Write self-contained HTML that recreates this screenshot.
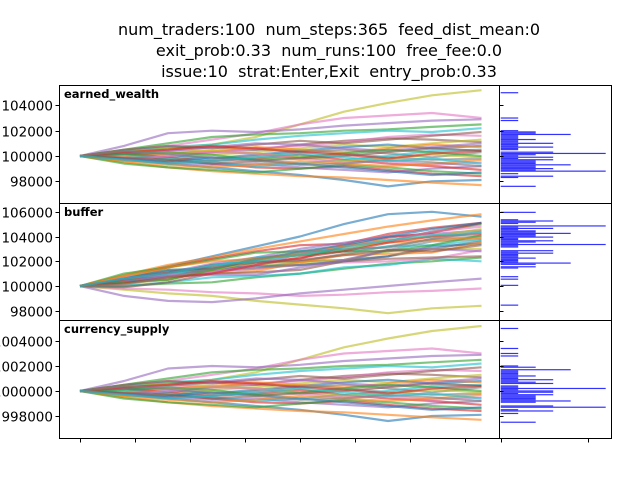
<!DOCTYPE html>
<html><head><meta charset="utf-8"><style>
html,body{margin:0;padding:0;background:#fff;}
svg{display:block;font-family:"DejaVu Sans","Liberation Sans",sans-serif;}
.pre{white-space:pre;}
</style></head><body>
<svg id="chart" width="640" height="480" viewBox="0 0 640 480">
<g font-size="16" text-anchor="middle" fill="#000">
<text class="pre" x="329" y="35">num_traders:100  num_steps:365  feed_dist_mean:0</text>
<text class="pre" x="329" y="56">exit_prob:0.33  num_runs:100  free_fee:0.0</text>
<text class="pre" x="329" y="77">issue:10  strat:Enter,Exit  entry_prob:0.33</text>
</g>
<g id="plots"></g>
</svg>
<script>
const steps = [0,40,80,120,160,200,240,280,320,365];
const colors = ["#bcbd22","#e377c2","#9467bd","#1f77b4","#2ca02c","#ff7f0e","#d62728","#8c564b","#7f7f7f","#17becf"];
const earnedDelta = [
[0,300,600,900,1500,2500,3500,4200,4800,5200],
[0,400,800,1300,1800,2500,3000,3200,3400,3000],
[0,800,1800,2000,1900,2100,2400,2600,2800,2900],
[0,-300,-600,-900,-1200,-1500,-1900,-2400,-2000,-1900],
[0,500,1000,1500,1700,1800,2000,2100,2300,2500],
[0,-500,-900,-1200,-1400,-1600,-1700,-1900,-2100,-2300],
[0,200,-300,-600,-900,-1000,-800,-1100,-1400,-1600],
[0,300,600,700,500,900,1200,1400,1300,1100],
[0,-200,-100,300,500,400,200,-100,-300,-200],
[0,400,700,900,1300,1600,1800,2000,1900,2200],
[0,-400,-300,100,300,600,900,700,1000,1300],
[0,200,500,300,600,800,1100,1500,1700,1600],
[0,-300,-500,-700,-600,-900,-1100,-1300,-1000,-800],
[0,300,100,-200,100,400,700,900,600,800],
[0,-600,-900,-1100,-1300,-1000,-700,-900,-1200,-1400],
[0,-100,200,400,700,500,300,600,900,700],
[0,200,-100,-400,-200,100,-300,-600,-800,-1100],
[0,500,800,600,900,1200,1000,1300,1600,1900],
[0,-200,-500,-300,0,300,500,200,-100,300],
[0,100,-200,-500,-800,-600,-300,0,400,500],
[0,300,600,400,200,-100,-400,-200,100,-100],
[0,-300,0,300,200,-200,-500,-400,-700,-500],
[0,200,400,700,1000,900,600,400,700,1000],
[0,-200,-400,-100,-300,-600,-900,-1200,-1500,-1300],
[0,100,300,100,-300,-100,200,500,300,0],
[0,-400,-700,-900,-700,-400,-600,-800,-600,-300],
[0,300,500,800,600,300,100,-200,200,400],
[0,-100,-300,-600,-400,-200,0,300,600,400],
[0,400,200,-100,-400,-700,-600,-300,-500,-800],
[0,-300,-600,-400,-100,200,-100,-400,-200,-600]
];
const bufferDelta = [
[0,-300,-600,-800,-1200,-1500,-1800,-2200,-1800,-1600],
[0,-200,-300,-500,-600,-800,-700,-500,-400,-200],
[0,-800,-1200,-1300,-1000,-600,-300,0,300,600],
[0,800,1600,2400,3200,4000,5000,5800,6000,5600],
[0,0,200,300,700,1000,1400,1800,2000,2300],
[0,900,1700,2300,3000,3600,4200,4800,5300,5800],
[0,600,1500,2200,2800,3300,3400,4200,4700,5100],
[0,300,600,1100,1900,2000,2100,2400,3000,3600],
[0,500,1000,1200,1400,2000,2600,3200,3800,4000],
[0,0,300,700,800,1000,1500,1700,2200,2000],
[0,700,1300,1400,1700,1900,2100,2800,3000,3000],
[0,400,500,1200,1400,1700,1900,2000,2200,2900],
[0,600,1100,1800,2300,3000,3500,4000,4200,4500],
[0,300,800,1400,1600,1700,2000,2400,3200,3400],
[0,1000,1500,2100,2700,2800,2900,3600,4400,5000],
[0,500,800,1000,1200,1900,2500,2600,2700,3500],
[0,300,1000,1700,2000,2200,3200,3900,4300,5100],
[0,-100,300,1000,1100,1300,2000,2200,2300,2400],
[0,600,1200,1300,1500,1700,2000,2900,3600,3800],
[0,300,900,1600,2300,2500,2800,3200,3300,3700],
[0,200,500,1300,2000,2700,3300,3700,4000,4600],
[0,700,900,1100,1700,2600,3300,3600,4400,4800],
[0,400,800,900,900,1500,2100,2900,3000,2800],
[0,600,1300,1400,2100,2800,3300,4000,4600,5100],
[0,300,500,1300,2200,2500,2800,2800,3300,4100],
[0,800,1500,2000,2200,2500,3200,3500,3700,3900],
[0,200,700,1000,1700,2300,2800,3500,4000,4200],
[0,500,1100,1500,1900,2100,2500,2900,2800,3300],
[0,100,700,1400,2200,2700,3000,3100,3800,4400],
[0,600,1000,1700,2000,2500,3100,3700,4100,4300]
];
const currencyDelta = earnedDelta;
const earnedBase = 100000, bufferBase = 100000, currencyBase = 1000000;
const earnedTicks = [98000,100000,102000,104000];
const bufferTicks = [98000,100000,102000,104000,106000];
const currencyTicks = [998000,1000000,1002000,1004000];
const xTicks = [0,50,100,150,200,250,300,350];
const histBinWidth = 100;
const earnedHistTop = 105050;
const earnedHist = [1,0,0,0,0,0,0,0,0,0,0,0,0,0,0,0,0,0,0,0,1,0,1,0,0,0,0,0,0,0,1,2,2,4,1,1,1,2,1,1,3,1,1,3,1,1,0,3,6,2,1,3,1,3,2,2,2,4,2,2,3,2,6,0,1,0,3,1,0,0,0,0,0,0,2];
const bufferHistTop = 106000;
const bufferHist = [2,0,0,0,0,0,1,3,2,1,0,6,1,3,1,2,2,4,2,2,3,1,1,3,2,1,6,1,1,0,0,3,1,3,1,1,1,2,1,1,1,4,2,0,2,1,0,0,0,0,0,0,1,0,1,0,0,0,0,1,0,0,0,0,0,0,0,0,0,0,0,0,0,0,0,1];
const currencyHistTop = 1005050;
const currencyHist = [1,0,0,0,0,0,0,0,0,0,0,0,0,0,0,0,1,0,0,0,1,0,1,0,0,0,0,0,0,0,1,2,0,4,1,1,1,1,2,1,1,3,1,2,3,0,1,1,6,1,3,3,1,3,2,2,2,2,4,2,0,0,3,6,0,1,3,0,1,0,0,0,0,0,0,2];
const histTicks = [0,5];

const NS = "http://www.w3.org/2000/svg";
const root = document.getElementById("plots");
function mk(tag, attrs, parent){const e=document.createElementNS(NS,tag);for(const k in attrs)e.setAttribute(k,attrs[k]);(parent||root).appendChild(e);return e;}
const X0 = 59, X1 = 499, HX0 = 500, HX1 = 611;
function xScale(s){return 80 + s*1.1;}
function hScale(c){return HX0 + 0.7 + c*17.5;}

const panels = [
 {name:"earned-wealth",label:"earned_wealth",top:85,bot:203,base:earnedBase,data:earnedDelta,ticks:earnedTicks,y0:156,ppu:25.3/2000,hist:earnedHist,histTop:earnedHistTop},
 {name:"buffer",label:"buffer",top:203,bot:320,base:bufferBase,data:bufferDelta,ticks:bufferTicks,y0:286,ppu:24.75/2000,hist:bufferHist,histTop:bufferHistTop},
 {name:"currency-supply",label:"currency_supply",top:320,bot:438,base:currencyBase,data:currencyDelta,ticks:currencyTicks,y0:391,ppu:25/2000,hist:currencyHist,histTop:currencyHistTop}
];

panels.forEach((p,pi)=>{
  const yScale = v => p.y0 - (v - p.base)*p.ppu;
  const g = mk("g",{});
  
  
  const clipId = "clip"+pi;
  const cp = mk("clipPath",{id:clipId},g);
  mk("rect",{x:X0,y:p.top,width:X1-X0,height:p.bot-p.top},cp);
  const lines = mk("g",{"clip-path":"url(#"+clipId+")"},g);
  p.data.forEach((series,si)=>{
    const pts = series.map((d,k)=>xScale(steps[k]).toFixed(1)+","+yScale(p.base+d).toFixed(1)).join(" ");
    const pl = mk("polyline",{points:pts,fill:"none",stroke:colors[si%colors.length],"stroke-width":2.2,"stroke-opacity":0.6,"stroke-linejoin":"round"},lines);
    
    
  });
  const hg = mk("g",{},g);
  
  
  p.hist.forEach((c,i)=>{
    if(!c) return;
    const vTop = p.histTop - i*histBinWidth;
    const yT = yScale(vTop), yB = yScale(vTop - histBinWidth);
    const r = mk("rect",{x:HX0+0.7,y:yT.toFixed(2),width:(hScale(c)-hScale(0)).toFixed(1),height:Math.max(1,(yB-yT)*0.95).toFixed(2),fill:"#3333ff"},hg);
    
    
  });
  const f1 = mk("rect",{x:X0+0.5,y:p.top+0.5,width:X1-X0,height:p.bot-p.top,fill:"none",stroke:"#000","stroke-width":1},g);
  
  
  const f2 = mk("rect",{x:HX0-0.5,y:p.top+0.5,width:HX1-HX0+1,height:p.bot-p.top,fill:"none",stroke:"#000","stroke-width":1},g);
  
  
  p.ticks.forEach(t=>{
    const y = Math.round(yScale(t))+0.5;
    mk("line",{x1:X0-3.5,x2:X0+0.5,y1:y,y2:y,stroke:"#000","stroke-width":1},g);
    mk("line",{x1:HX0-0.5,x2:HX0+3.5,y1:y,y2:y,stroke:"#000","stroke-width":1},g);
    const tx = mk("text",{x:X0-6,y:y+5,"text-anchor":"end","font-size":"13.5",fill:"#000"},g);
    tx.textContent = String(t);
    
    
  });
  const lbl = mk("text",{x:64,y:p.top+13,"font-size":"11.5","font-weight":"bold",fill:"#000"},g);
  lbl.textContent = p.label;
  
  
  if(pi===2){
    xTicks.forEach(s=>{
      const x = Math.round(xScale(s))+0.5;
      mk("line",{x1:x,x2:x,y1:p.bot+0.5,y2:p.bot+4.5,stroke:"#000","stroke-width":1},g);
    });
    histTicks.forEach(c=>{
      const x = Math.round(hScale(c))+0.5;
      mk("line",{x1:x,x2:x,y1:p.bot+0.5,y2:p.bot+4.5,stroke:"#000","stroke-width":1},g);
    });
  }
});
</script>
</body></html>
